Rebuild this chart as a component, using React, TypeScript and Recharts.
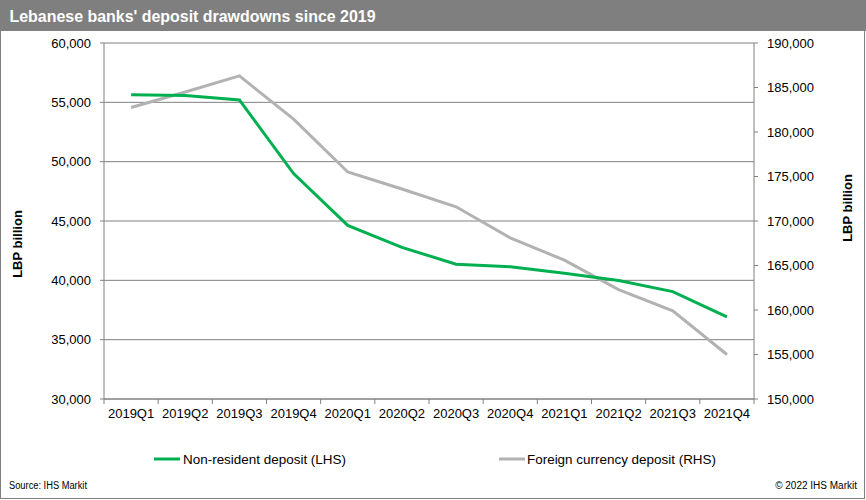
import React from 'react';
import { LineChart, Line, XAxis, YAxis, CartesianGrid } from 'recharts';

const categories = ['2019Q1', '2019Q2', '2019Q3', '2019Q4', '2020Q1', '2020Q2', '2020Q3', '2020Q4', '2021Q1', '2021Q2', '2021Q3', '2021Q4'];
const nonResident = [55630, 55580, 55200, 49000, 44630, 42780, 41360, 41150, 40600, 39980, 39050, 36920];
const foreignCurrency = [182750, 184500, 186300, 181450, 175500, 173600, 171600, 168100, 165600, 162300, 159900, 155000];
const leftTicks = [30000, 35000, 40000, 45000, 50000, 55000, 60000];
const rightTicks = [150000, 155000, 160000, 165000, 170000, 175000, 180000, 185000, 190000];

const data = categories.map((c, i) => ({ cat: c, nonResident: nonResident[i], foreignCurrency: foreignCurrency[i] }));

const W = 866;
const H = 500;
const MARGIN = { top: 43, right: 20, bottom: 60, left: 20 };
const LEFT_AXIS_W = 84;
const RIGHT_AXIS_W = 92;
const PLOT_W = W - MARGIN.left - MARGIN.right - LEFT_AXIS_W - RIGHT_AXIS_W;
const BAND = PLOT_W / categories.length;

const FONT = "'Liberation Sans', Arial, sans-serif";
const AXIS_GRAY = '#808080';
const GREEN = '#00B050';
const LIGHT_GRAY = '#B2B2B2';

const fmt = (v: number) => v.toLocaleString('en-US');

const XTick = (props: any) => {
  const { x, y, payload, index } = props;
  const left = x - BAND / 2;
  const isLast = index === categories.length - 1;
  return (
    <g>
      <line x1={left} y1={y} x2={left} y2={y + 5} stroke={AXIS_GRAY} strokeWidth={1} />
      {isLast && <line x1={x + BAND / 2} y1={y} x2={x + BAND / 2} y2={y + 5} stroke={AXIS_GRAY} strokeWidth={1} />}
      <text x={x} y={y + 10} dy="0.71em" textAnchor="middle" fontFamily={FONT} fontSize={13} fill="#000">
        {payload.value}
      </text>
    </g>
  );
};

export default function App() {
  return (
    <div style={{ position: 'absolute', left: 0, top: 0, width: W, height: H, background: '#fff' }}>
      <LineChart width={W} height={H} data={data} margin={MARGIN}>
        <CartesianGrid yAxisId="left" vertical={false} stroke={AXIS_GRAY} strokeWidth={1} />
        <XAxis
          dataKey="cat"
          height={41}
          padding={{ left: BAND / 2, right: BAND / 2 }}
          axisLine={{ stroke: AXIS_GRAY }}
          tickLine={false}
          tickSize={0}
          tickMargin={0}
          interval={0}
          tick={<XTick />}
        />
        <YAxis
          yAxisId="left"
          orientation="left"
          width={LEFT_AXIS_W}
          domain={[30000, 60000]}
          ticks={leftTicks}
          tickFormatter={fmt}
          axisLine={{ stroke: AXIS_GRAY }}
          tickLine={{ stroke: AXIS_GRAY }}
          tickSize={4}
          tickMargin={9}
          tick={{ fontFamily: FONT, fontSize: 13, fill: '#000' }}
          interval={0}
        />
        <YAxis
          yAxisId="right"
          orientation="right"
          width={RIGHT_AXIS_W}
          domain={[150000, 190000]}
          ticks={rightTicks}
          tickFormatter={fmt}
          axisLine={{ stroke: AXIS_GRAY }}
          tickLine={{ stroke: AXIS_GRAY }}
          tickSize={4}
          tickMargin={9}
          tick={{ fontFamily: FONT, fontSize: 13, fill: '#000' }}
          interval={0}
        />
        <Line yAxisId="right" type="linear" dataKey="foreignCurrency" stroke={LIGHT_GRAY} strokeWidth={3} dot={false} isAnimationActive={false} />
        <Line yAxisId="left" type="linear" dataKey="nonResident" stroke={GREEN} strokeWidth={3} dot={false} isAnimationActive={false} />
      </LineChart>
      <svg width={W} height={H} style={{ position: 'absolute', left: 0, top: 0, pointerEvents: 'none' }}>
        <rect x={0} y={0} width={W} height={31} fill="#7F7F7F" />
        <text x={9.5} y={22} fontFamily={FONT} fontWeight="bold" fontSize={16.5} fill="#fff" textLength={366} lengthAdjust="spacingAndGlyphs">
          Lebanese banks' deposit drawdowns since 2019
        </text>
        <rect x={0.5} y={0.5} width={W - 2} height={H - 2} fill="none" stroke={AXIS_GRAY} strokeWidth={1} />
        <text transform="translate(22,244) rotate(-90)" textAnchor="middle" fontFamily={FONT} fontWeight="bold" fontSize={13} fill="#000">
          LBP billion
        </text>
        <text transform="translate(852,208) rotate(-90)" textAnchor="middle" fontFamily={FONT} fontWeight="bold" fontSize={13} fill="#000">
          LBP billion
        </text>
        <line x1={154} y1={459} x2={180} y2={459} stroke={GREEN} strokeWidth={3} />
        <text x={183} y={464} fontFamily={FONT} fontSize={13.5} fill="#000" textLength={163} lengthAdjust="spacingAndGlyphs">
          Non-resident deposit (LHS)
        </text>
        <line x1={499} y1={459} x2={525} y2={459} stroke={LIGHT_GRAY} strokeWidth={3} />
        <text x={527} y={464} fontFamily={FONT} fontSize={13.5} fill="#000" textLength={189} lengthAdjust="spacingAndGlyphs">
          Foreign currency deposit (RHS)
        </text>
        <text x={9} y={489} fontFamily={FONT} fontSize={10} fill="#000" textLength={78} lengthAdjust="spacingAndGlyphs">
          Source: IHS Markit
        </text>
        <text x={857} y={489} textAnchor="end" fontFamily={FONT} fontSize={10} fill="#000">
          © 2022 IHS Markit
        </text>
      </svg>
    </div>
  );
}
